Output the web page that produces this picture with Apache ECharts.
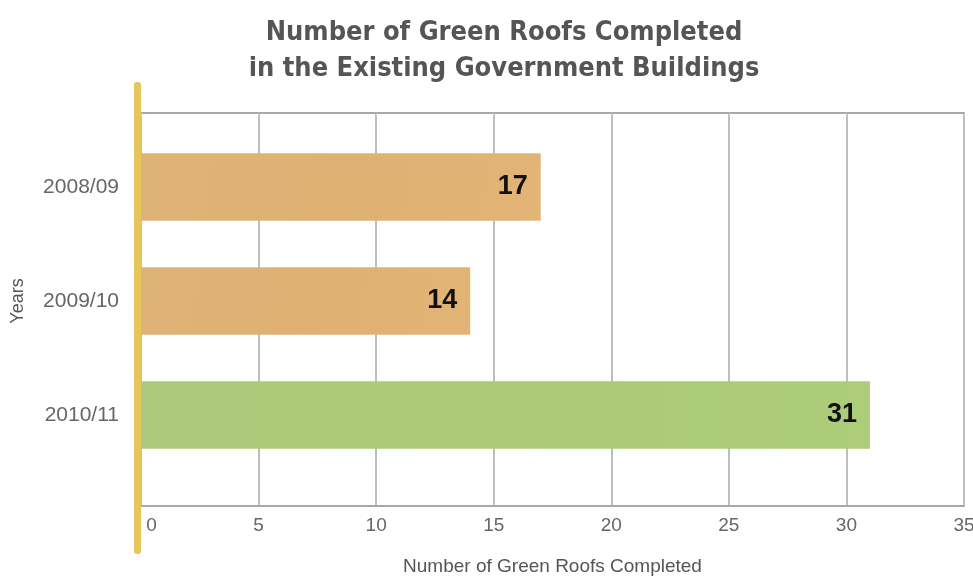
<!DOCTYPE html>
<html>
<head>
<meta charset="utf-8">
<script src="https://cdn.jsdelivr.net/npm/echarts@6/dist/echarts.min.js"></script>
<style>
html,body{margin:0;padding:0;background:#fff;}
#chart{width:973px;height:577px;}
</style>
</head>
<body>
<div id="chart"></div>
<script>
const categories = ['2008/09', '2009/10', '2010/11'];
const roofValues = [17, 14, 31];
const barColors = ['#deb173', '#deb173', '#abc978'];
const xTicks = [0, 5, 10, 15, 20, 25, 30, 35];

const chart = echarts.init(document.getElementById('chart'));
const labelFont = 'Liberation Sans';
const option = {
  backgroundColor: '#ffffff',
  animation: false,
  title: {
    text: 'Number of Green Roofs Completed\nin the Existing Government Buildings',
    left: 499,
    textAlign: 'center',
    top: 10,
    textStyle: {
      fontFamily: '"DejaVu Sans Condensed", "Liberation Sans", sans-serif',
      fontWeight: 'bold',
      fontSize: 27,
      lineHeight: 36,
      color: '#555555'
    }
  },
  grid: [
    { left: 141, right: 9, top: 113, bottom: 71, show: false, outerBoundsMode: 'none', containLabel: false },
    { left: 141, right: 9, top: 130, bottom: 105, show: false, outerBoundsMode: 'none', containLabel: false }
  ],
  xAxis: [
    {
      type: 'value', gridIndex: 0, min: xTicks[0], max: xTicks[xTicks.length - 1], interval: 5,
      axisLine: { show: true, lineStyle: { color: '#a8a8a8', width: 2 } },
      axisTick: { show: false },
      splitLine: { show: true, lineStyle: { color: '#a8a8a8', width: 1.5 } },
      axisLabel: {
        fontFamily: labelFont, fontSize: 19, color: '#666666', margin: 10,
        formatter: v => (v === 0 ? '    0' : String(v))
      },
      name: 'Number of Green Roofs Completed',
      nameLocation: 'middle',
      nameGap: 51,
      nameTextStyle: { fontFamily: labelFont, fontSize: 19, color: '#555555' }
    },
    {
      type: 'value', gridIndex: 0, position: 'top', min: 0, max: 35, interval: 5,
      axisLine: { show: true, lineStyle: { color: '#a8a8a8', width: 2 } },
      axisTick: { show: true, inside: true, length: 4, lineStyle: { color: '#cccccc' } },
      axisLabel: { show: false },
      splitLine: { show: false }
    },
    {
      type: 'value', gridIndex: 1, min: 0, max: 35, interval: 5, show: false
    }
  ],
  yAxis: [
    {
      type: 'category', gridIndex: 0, data: [''], show: false
    },
    {
      type: 'category', gridIndex: 1, data: categories, inverse: true,
      axisLine: { show: false },
      axisTick: { show: false },
      axisLabel: { fontFamily: labelFont, fontSize: 21, color: '#666666', margin: 22 },
      name: 'Years',
      nameLocation: 'middle',
      nameGap: 114,
      nameRotate: 90,
      nameTextStyle: { fontFamily: labelFont, fontSize: 18, color: '#555555' }
    }
  ],
  series: [
    {
      type: 'bar',
      xAxisIndex: 2,
      yAxisIndex: 1,
      barWidth: '59%',
      data: roofValues.map((v, i) => ({
        value: v,
        itemStyle: {
          color: new echarts.graphic.LinearGradient(0, 0, 1, 1, [
            { offset: 0, color: echarts.color.lift(barColors[i], 0.03) },
            { offset: 0.5, color: barColors[i] },
            { offset: 1, color: echarts.color.lift(barColors[i], -0.02) }
          ])
        }
      })),
      label: {
        show: true,
        position: 'insideRight',
        distance: 13,
        fontFamily: 'Liberation Sans',
        fontWeight: 'bold',
        fontSize: 27,
        color: '#111111'
      }
    }
  ],
  graphic: [
    {
      type: 'rect',
      left: 134,
      top: 82,
      shape: { width: 7, height: 472, r: 3 },
      style: { fill: '#e6c55c' },
      z: 100
    }
  ]
};
chart.setOption(option);
</script>
</body>
</html>
